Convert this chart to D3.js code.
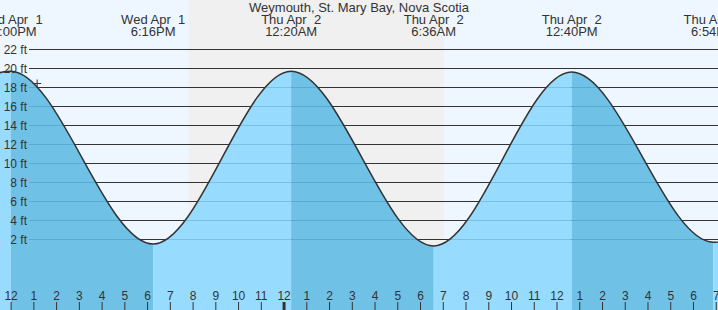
<!DOCTYPE html>
<html>
<head>
<meta charset="utf-8">
<script src="https://cdn.jsdelivr.net/npm/d3@7"></script>
<style>
  body { margin: 0; background: #fff; }
  svg { display: block; font-family: "Liberation Sans", Arial, sans-serif; }
  text { white-space: pre; fill: #333; }
</style>
</head>
<body>
<script>
const width = 718, height = 310;

// tide extremes (first and last are just off the chart)
const extremeTimes = ["2020-04-01 05:44", "2020-04-01 12:00", "2020-04-01 18:16", "2020-04-02 00:20",
                      "2020-04-02 06:36", "2020-04-02 12:40", "2020-04-02 18:54", "2020-04-03 01:10"];
const extremeHeights = [1.5, 19.7, 1.5, 19.7, 1.3, 19.6, 1.7, 19.5];

const title = "Weymouth, St. Mary Bay, Nova Scotia";
const feetTicks = [2, 4, 6, 8, 10, 12, 14, 16, 18, 20, 22];
const sunset = "2020-04-01 19:50";
const sunrise = "2020-04-02 07:03";
const nowTime = "2020-04-01 13:10";
const nowHeight = 18.4;

const parse = d3.timeParse("%Y-%m-%d %H:%M");
const tides = extremeTimes.map((t, i) => ({ time: parse(t), h: extremeHeights[i] }));

let x = d3.scaleTime()
  .domain([parse("2020-04-01 11:32"), parse("2020-04-02 19:06")])
  .range([0, width]);
let y = d3.scaleLinear().domain([0, 22]).range([258.3, 49.3]);

let svg = d3.select("body").append("svg")
  .attr("width", width)
  .attr("height", height);

// day / night background
svg.append("rect").attr("width", width).attr("height", height).attr("fill", "#eef7ff");
svg.append("rect")
  .attr("x", x(parse(sunset)))
  .attr("width", x(parse(sunrise)) - x(parse(sunset)))
  .attr("height", height)
  .attr("fill", "#f0f0f0");

// grid lines above the water
function gridLines(g, color) {
  g.selectAll("line").data(feetTicks).join("line")
    .attr("x1", 29).attr("x2", width)
    .attr("y1", d => Math.round(y(d)) + 0.5)
    .attr("y2", d => Math.round(y(d)) + 0.5)
    .attr("stroke", color);
}
svg.append("g").call(gridLines, "#333");

// water
let area = d3.area()
  .x(d => x(d.time))
  .y0(height)
  .y1(d => y(d.h))
  .curve(d3.curveMonotoneX);

svg.append("clipPath").attr("id", "water")
  .append("path").attr("d", area(tides));

let water = svg.append("g").attr("clip-path", "url(#water)");
water.selectAll("rect").data(tides.slice(0, -1)).join("rect")
  .attr("x", (d, i) => x(d.time))
  .attr("width", (d, i) => x(tides[i + 1].time) - x(d.time))
  .attr("height", height)
  .attr("fill", (d, i) => d.h > tides[i + 1].h ? "#70c1e6" : "#97dcff");
water.append("g").call(gridLines, "rgba(0,80,140,0.2)");

// tide curve
svg.append("path")
  .attr("d", d3.line().x(d => x(d.time)).y(d => y(d.h)).curve(d3.curveMonotoneX)(tides))
  .attr("fill", "none")
  .attr("stroke", "#333")
  .attr("stroke-width", 1.5);

// current time marker
let cx = x(parse(nowTime)), cy = y(nowHeight);
svg.append("path")
  .attr("d", `M${cx - 4},${cy}H${cx + 4}M${cx},${cy - 4}V${cy + 4}`)
  .attr("stroke", "#333");

// feet labels
svg.append("g").selectAll("text").data(feetTicks).join("text")
  .attr("x", 27)
  .attr("y", d => y(d) + 4.5)
  .attr("text-anchor", "end")
  .attr("font-size", 12)
  .text(d => d + " ft");

// hour axis
let axis = svg.append("g")
  .attr("transform", `translate(0,${height})`)
  .call(d3.axisTop(x)
    .ticks(d3.timeHour.every(1))
    .tickSize(8)
    .tickPadding(2)
    .tickFormat(d3.timeFormat("%-I")));
axis.select(".domain").remove();
axis.selectAll(".tick line").attr("stroke", "#333")
  .attr("stroke-width", d => d.getHours() === 0 ? 3 : 1);
axis.selectAll(".tick text").attr("font-size", 12).attr("font-family", null).attr("fill", "#333");

// high / low labels
let fmtDay = d3.timeFormat("%a %b %e"), fmtTime = d3.timeFormat("%-I:%M%p");
let labels = svg.append("g").selectAll("g").data(tides).join("g")
  .attr("transform", d => `translate(${x(d.time)},0)`)
  .attr("font-size", 13)
  .attr("text-anchor", "middle");
labels.append("text").attr("y", 24).text(d => fmtDay(d.time));
labels.append("text").attr("y", 36).text(d => fmtTime(d.time));

svg.append("text")
  .attr("x", width / 2)
  .attr("y", 12)
  .attr("font-size", 13)
  .attr("text-anchor", "middle")
  .text(title);
</script>
</body>
</html>
